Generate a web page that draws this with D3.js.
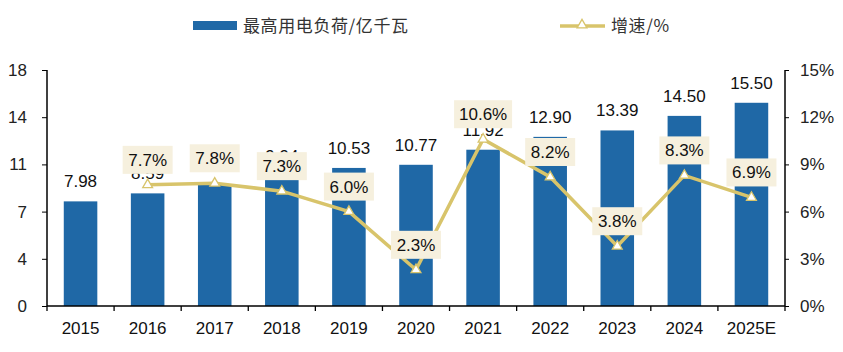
<!DOCTYPE html>
<html>
<head>
<meta charset="utf-8">
<script src="https://cdn.jsdelivr.net/npm/d3@7"></script>
<style>
  body { margin: 0; background: #fff; }
  text { font-family: "Liberation Sans", Arial, sans-serif; }
</style>
</head>
<body>
<div id="chart"></div>
<script>
// data
var years = ["2015", "2016", "2017", "2018", "2019", "2020", "2021", "2022", "2023", "2024", "2025E"];
var load = [7.98, 8.59, 9.26, 9.94, 10.53, 10.77, 11.92, 12.90, 13.39, 14.50, 15.50];
var growth = [null, 7.7, 7.8, 7.3, 6.0, 2.3, 10.6, 8.2, 3.8, 8.3, 6.9];
var leftTicks = [0, 3.6, 7.2, 10.8, 14.4, 18];
var rightTicks = [0, 3, 6, 9, 12, 15];

var width = 843, height = 352;
var plotLeft = 47, plotRight = 785, plotTop = 70, plotBottom = 306;
var barColor = "#1f68a6", lineColor = "#d8c46b", boxColor = "#f6f0de";

var svg = d3.select("#chart").append("svg")
    .attr("width", width).attr("height", height);

var xScale = d3.scaleBand().domain(years).range([plotLeft, plotRight]).paddingInner(0.5).paddingOuter(0.25);
var yScale = d3.scaleLinear().domain([0, 18]).range([plotBottom, plotTop]);
var y2Scale = d3.scaleLinear().domain([0, 15]).range([plotBottom, plotTop]);

// bars
svg.selectAll(".bar").data(load).enter().append("rect")
    .attr("class", "bar")
    .attr("x", (d, i) => xScale(years[i]))
    .attr("width", xScale.bandwidth())
    .attr("y", d => yScale(d))
    .attr("height", d => yScale(0) - yScale(d))
    .attr("fill", barColor);

// axes
var gx = svg.append("g").attr("transform", "translate(0," + plotBottom + ")");
gx.append("line").attr("x1", plotLeft).attr("x2", plotRight).attr("stroke", "#000").attr("stroke-width", 1.5);
var step = (plotRight - plotLeft) / years.length;
d3.range(years.length + 1).forEach(function (i) {
    gx.append("line").attr("x1", plotLeft + i * step).attr("x2", plotLeft + i * step)
        .attr("y1", 0).attr("y2", 5).attr("stroke", "#000").attr("stroke-width", 1.3);
});
gx.selectAll(".xl").data(years).enter().append("text")
    .attr("x", d => xScale(d) + xScale.bandwidth() / 2)
    .attr("y", 28)
    .attr("text-anchor", "middle")
    .style("font-size", "17px")
    .attr("fill", "#111")
    .text(d => d);

var yAxis = d3.axisLeft(yScale).tickValues(leftTicks).tickSize(5).tickPadding(15)
    .tickFormat(d => Math.round(d));
var gy = svg.append("g").attr("transform", "translate(" + plotLeft + ",0)").call(yAxis);
gy.select(".domain").attr("stroke-width", 1.5).attr("d", "M0," + plotTop + "V" + plotBottom);
gy.selectAll("text").style("font-size", "17px").attr("fill", "#222");

var y2Axis = d3.axisRight(y2Scale).tickValues(rightTicks).tickSize(4).tickPadding(11)
    .tickFormat(d => d + "%");
var gy2 = svg.append("g").attr("transform", "translate(" + plotRight + ",0)").call(y2Axis);
gy2.select(".domain").attr("stroke-width", 1.5).attr("d", "M0," + plotTop + "V" + plotBottom);
gy2.selectAll("text").style("font-size", "17px").attr("fill", "#222");

// bar labels
svg.selectAll(".blabel").data(load).enter().append("text")
    .attr("x", (d, i) => xScale(years[i]) + xScale.bandwidth() / 2)
    .attr("y", d => yScale(d) - 14)
    .attr("text-anchor", "middle")
    .style("font-size", "17px")
    .attr("fill", "#111")
    .text(d => d.toFixed(2));

// growth line
var pts = growth.map((g, i) => ({ year: years[i], g: g })).filter(d => d.g !== null);
var line = d3.line()
    .x(d => xScale(d.year) + xScale.bandwidth() / 2)
    .y(d => y2Scale(d.g));
svg.append("path").datum(pts)
    .attr("d", line)
    .attr("fill", "none")
    .attr("stroke", lineColor)
    .attr("stroke-width", 3.5);

var tri = d3.symbol().type(d3.symbolTriangle).size(42);
svg.selectAll(".mk").data(pts).enter().append("path")
    .attr("d", tri)
    .attr("transform", d => "translate(" + (xScale(d.year) + xScale.bandwidth() / 2) + "," + y2Scale(d.g) + ")")
    .attr("fill", "#fff")
    .attr("stroke", lineColor)
    .attr("stroke-width", 1.3);

// growth labels
var gl = svg.selectAll(".glabel").data(pts).enter().append("g")
    .attr("transform", d => "translate(" + (xScale(d.year) + xScale.bandwidth() / 2) + "," + (y2Scale(d.g) - 25) + ")");
gl.append("rect")
    .attr("x", d => d.g >= 10 ? -29 : -25).attr("y", -14)
    .attr("width", d => d.g >= 10 ? 58 : 50).attr("height", 28)
    .attr("fill", boxColor);
gl.append("text")
    .attr("text-anchor", "middle")
    .attr("y", 6)
    .style("font-size", "17px")
    .attr("fill", "#111")
    .text(d => d.g.toFixed(1) + "%");

// legend
var lg = svg.append("g");
lg.append("rect").attr("x", 193).attr("y", 21).attr("width", 44).attr("height", 9).attr("fill", barColor);
lg.append("text").attr("x", 243).attr("y", 32)
    .style("font-family", "'Noto Sans CJK SC', sans-serif").style("font-size", "17px")
    .style("letter-spacing", "0.6px")
    .attr("fill", "#333").text("最高用电负荷/亿千瓦");
lg.append("line").attr("x1", 560).attr("x2", 605).attr("y1", 26).attr("y2", 26)
    .attr("stroke", lineColor).attr("stroke-width", 3.5);
lg.append("path").attr("d", tri).attr("transform", "translate(582,25)")
    .attr("fill", "#fff").attr("stroke", lineColor).attr("stroke-width", 1.3);
lg.append("text").attr("x", 611).attr("y", 32)
    .style("font-family", "'Noto Sans CJK SC', sans-serif").style("font-size", "17px")
    .style("letter-spacing", "0.6px")
    .attr("fill", "#333").text("增速/%");
</script>
</body>
</html>
